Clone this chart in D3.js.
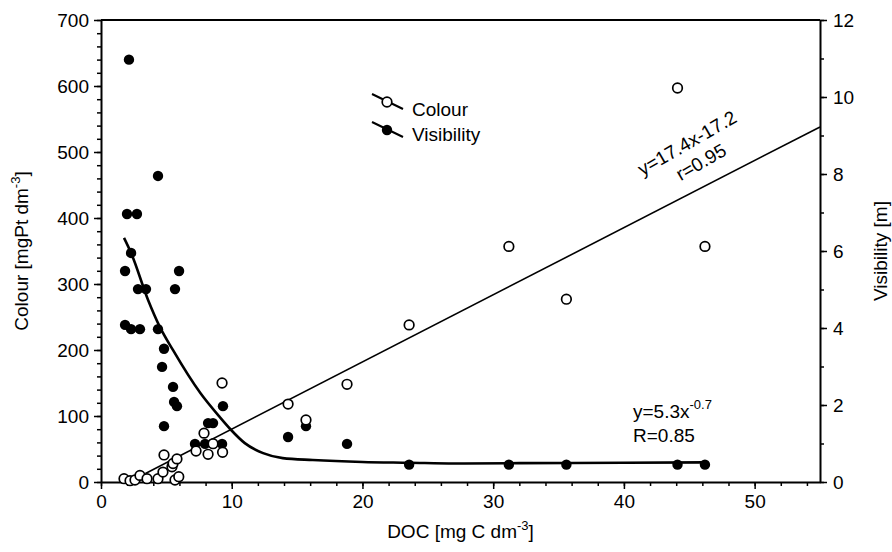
<!DOCTYPE html>
<html>
<head>
<meta charset="utf-8">
<script src="https://cdn.jsdelivr.net/npm/d3@7"></script>
<style>
  body { margin: 0; background: #fff; }
  svg text { font-family: "Liberation Sans", Arial, sans-serif; fill: #000; }
</style>
</head>
<body>
<svg id="chart"></svg>
<script>
// Chart size
const width = 892;
const height = 552;

// Colour (open circles): DOC [mg C dm-3] vs colour [mgPt dm-3]
const colourDoc = [1.76, 2.22, 2.6, 2.98, 3.52, 4.36, 4.74, 4.82, 5.43, 5.51, 5.81, 5.66, 5.95,
                   7.27, 7.88, 8.19, 8.57, 9.3, 9.26, 14.31, 15.68, 18.82, 23.57, 31.2, 35.6, 44.1, 46.2];
const colourVal = [5, 2, 3, 10, 5, 5, 15, 41, 23, 28, 35, 3, 8,
                   47, 74, 42, 58, 45, 150, 118, 94, 148, 238, 357, 277, 597, 357];

// Visibility (filled circles): DOC vs visibility [m]
const visDoc = [2.14, 4.36, 1.99, 2.75, 2.3, 1.84, 5.97, 2.83, 3.44, 5.66, 1.84, 2.3, 2.98, 4.36,
                4.82, 4.67, 5.51, 5.59, 5.81, 4.82, 9.33, 8.19, 8.57, 7.19, 7.96, 9.26,
                14.31, 15.68, 18.82, 23.57, 31.2, 35.6, 44.1, 46.2];
const visVal = [10.97, 7.95, 6.96, 6.96, 5.95, 5.48, 5.48, 5.01, 5.01, 5.01, 4.08, 3.97, 3.97, 3.97,
                3.46, 2.99, 2.47, 2.08, 1.97, 1.45, 1.97, 1.53, 1.53, 0.99, 0.99, 0.99,
                1.17, 1.45, 0.99, 0.45, 0.45, 0.45, 0.45, 0.45];

// fitted lines
const colourFitDoc = [3.4, 55];
const colourFitVal = [13, 538];
const visFitDoc = [1.76, 2.3, 3.6, 4.5, 5.5, 7.6, 9.1, 9.9, 11.0, 12.4, 13.9, 16.2, 20, 23.6, 27, 32, 40, 46.2];
const visFitVal = [6.34, 5.95, 4.73, 4.03, 3.43, 2.31, 1.68, 1.37, 1.01, 0.75, 0.62, 0.57, 0.52, 0.5, 0.48, 0.49, 0.5, 0.51];

// ticks
const xTicks = [0, 10, 20, 30, 40, 50];
const yLeftTicks = [0, 100, 200, 300, 400, 500, 600, 700];
const yRightTicks = [0, 2, 4, 6, 8, 10, 12];

const legendLabels = ["Colour", "Visibility"];

const margin = {left: 101, right: 72, top: 20, bottom: 70};

const svg = d3.select("#chart")
              .attr("width", width)
              .attr("height", height);

const x = d3.scaleLinear().domain([0, 55]).range([margin.left, width - margin.right]);
const yL = d3.scaleLinear().domain([0, 700]).range([height - margin.bottom, margin.top]);
const yR = d3.scaleLinear().domain([0, 12]).range([height - margin.bottom, margin.top]);

const fontSize = 19;

// minor ticks first
svg.append("g")
   .attr("transform", `translate(0,${yL(0)})`)
   .call(d3.axisBottom(x).tickValues(d3.range(0, 55.1, 2)).tickSize(4).tickFormat("").tickSizeOuter(0))
   .call(g => g.select(".domain").remove());
svg.append("g")
   .attr("transform", `translate(${x(0)},0)`)
   .call(d3.axisLeft(yL).tickValues(d3.range(0, 701, 20)).tickSize(4).tickFormat("").tickSizeOuter(0))
   .call(g => g.select(".domain").remove());
svg.append("g")
   .attr("transform", `translate(${x(55)},0)`)
   .call(d3.axisRight(yR).tickValues(d3.range(0, 12.1, 1)).tickSize(4).tickFormat("").tickSizeOuter(0))
   .call(g => g.select(".domain").remove());

// major axes
svg.append("g")
   .attr("transform", `translate(0,${yL(0)})`)
   .call(d3.axisBottom(x).tickValues(xTicks).tickSize(7).tickPadding(6).tickSizeOuter(0));
svg.append("g")
   .attr("transform", `translate(${x(0)},0)`)
   .call(d3.axisLeft(yL).tickValues(yLeftTicks).tickSize(7).tickPadding(5).tickSizeOuter(0));
svg.append("g")
   .attr("transform", `translate(${x(55)},0)`)
   .call(d3.axisRight(yR).tickValues(yRightTicks).tickSize(7).tickPadding(6).tickSizeOuter(0));

svg.selectAll(".tick line").attr("stroke", "#000").attr("stroke-width", 1.5);
svg.selectAll(".domain").attr("stroke", "#000").attr("stroke-width", 2);
svg.selectAll(".tick text").attr("font-size", fontSize).attr("font-family", null);

// top frame line
svg.append("line")
   .attr("x1", x(0)).attr("x2", x(55))
   .attr("y1", yL(700)).attr("y2", yL(700))
   .attr("stroke", "#000").attr("stroke-width", 2);

// axis titles
const xTitle = svg.append("text")
   .attr("x", (x(0) + x(55)) / 2).attr("y", 538)
   .attr("text-anchor", "middle").attr("font-size", fontSize);
xTitle.append("tspan").text("DOC [mg C dm");
xTitle.append("tspan").attr("font-size", 13).attr("dy", -8).text("-3");
xTitle.append("tspan").attr("dy", 8).text("]");

const yTitle = svg.append("text")
   .attr("transform", `translate(28,${(yL(0) + yL(700)) / 2}) rotate(-90)`)
   .attr("text-anchor", "middle").attr("font-size", fontSize);
yTitle.append("tspan").text("Colour [mgPt dm");
yTitle.append("tspan").attr("font-size", 13).attr("dy", -8).text("-3");
yTitle.append("tspan").attr("dy", 8).text("]");

svg.append("text")
   .attr("transform", `translate(887,${(yL(0) + yL(700)) / 2}) rotate(-90)`)
   .attr("text-anchor", "middle").attr("font-size", fontSize)
   .text("Visibility [m]");

// fit lines
const colourLine = d3.line().x((d, i) => x(colourFitDoc[i])).y(d => yL(d));
svg.append("path")
   .attr("d", colourLine(colourFitVal))
   .attr("fill", "none").attr("stroke", "#000").attr("stroke-width", 1.6);

const visLine = d3.line().x((d, i) => x(visFitDoc[i])).y(d => yR(d)).curve(d3.curveMonotoneX);
svg.append("path")
   .attr("d", visLine(visFitVal))
   .attr("fill", "none").attr("stroke", "#000").attr("stroke-width", 2.6);

// points
svg.append("g").selectAll("circle")
   .data(visVal)
   .enter().append("circle")
   .attr("cx", (d, i) => x(visDoc[i]))
   .attr("cy", d => yR(d))
   .attr("r", 5.2)
   .attr("fill", "#000");

svg.append("g").selectAll("circle")
   .data(colourVal)
   .enter().append("circle")
   .attr("cx", (d, i) => x(colourDoc[i]))
   .attr("cy", d => yL(d))
   .attr("r", 4.8)
   .attr("fill", "#fff")
   .attr("stroke", "#000")
   .attr("stroke-width", 1.7);

// legend
const legend = svg.append("g").attr("transform", "translate(372,94)");
legendLabels.forEach((label, i) => {
  const g = legend.append("g").attr("transform", `translate(0,${i * 28})`);
  g.append("line")
   .attr("x1", 0).attr("y1", 0).attr("x2", 31).attr("y2", 15)
   .attr("stroke", "#000").attr("stroke-width", 2);
  g.append("circle")
   .attr("cx", 15).attr("cy", 8).attr("r", i === 0 ? 4.8 : 5.2)
   .attr("fill", i === 0 ? "#fff" : "#000")
   .attr("stroke", "#000").attr("stroke-width", i === 0 ? 1.7 : 0);
  g.append("text")
   .attr("x", 40).attr("y", 22 - i * 3)
   .attr("font-size", fontSize)
   .text(label);
});

// equations
svg.append("text")
   .attr("transform", "translate(687,143) rotate(-30)")
   .attr("text-anchor", "middle").attr("dy", "0.35em")
   .attr("font-size", fontSize)
   .text("y=17.4x-17.2");
svg.append("text")
   .attr("transform", "translate(701,162) rotate(-30)")
   .attr("text-anchor", "middle").attr("dy", "0.35em")
   .attr("font-size", fontSize)
   .text("r=0.95");

const eq2 = svg.append("text")
   .attr("x", 633).attr("y", 418)
   .attr("font-size", fontSize);
eq2.append("tspan").text("y=5.3x");
eq2.append("tspan").attr("font-size", 13).attr("dy", -9).text("-0.7");
svg.append("text")
   .attr("x", 633).attr("y", 442)
   .attr("font-size", fontSize)
   .text("R=0.85");
</script>
</body>
</html>
